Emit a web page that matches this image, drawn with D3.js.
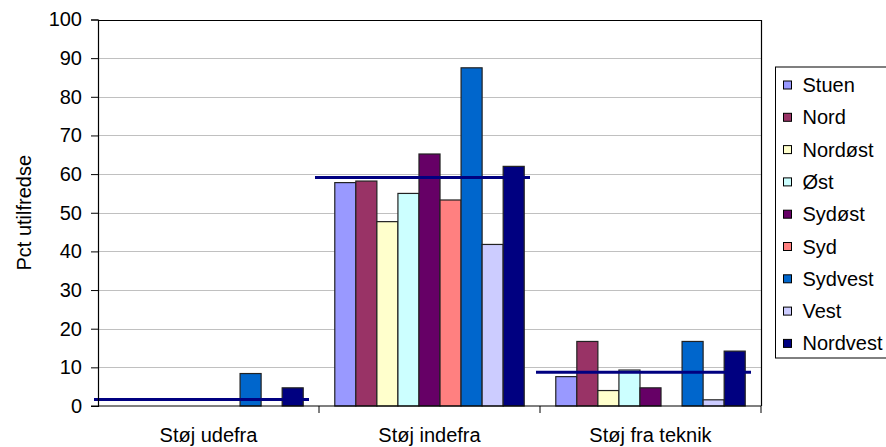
<!DOCTYPE html>
<html>
<head>
<meta charset="utf-8">
<script src="https://cdn.jsdelivr.net/npm/d3@7"></script>
<style>
  html, body { margin: 0; padding: 0; background: #fff; }
  svg { display: block; font-family: Arial, "Liberation Sans", sans-serif; }
</style>
</head>
<body>
<svg id="chart" width="886" height="447"></svg>
<script>
// ---- data ----
const categories = ["Støj udefra", "Støj indefra", "Støj fra teknik"];
const seriesNames = ["Stuen", "Nord", "Nordøst", "Øst", "Sydøst", "Syd", "Sydvest", "Vest", "Nordvest"];
const seriesColors = ["#9999FF", "#993366", "#FFFFCC", "#CCFFFF", "#660066", "#FF8080", "#0066CC", "#CCCCFF", "#000080"];
const Stuen    = [0, 57.8, 7.6];
const Nord     = [0, 58.2, 16.7];
const Nordost  = [0, 47.7, 4.0];
const Ost      = [0, 55.0, 9.3];
const Sydost   = [0, 65.2, 4.7];
const Syd      = [0, 53.3, 0];
const Sydvest  = [8.4, 87.5, 16.7];
const Vest     = [0, 41.8, 1.6];
const Nordvest = [4.7, 62.0, 14.2];
const average  = [1.7, 59.1, 8.7];
const yTicks   = [0, 10, 20, 30, 40, 50, 60, 70, 80, 90, 100];
const yTitle   = "Pct utilfredse";

const seriesValues = [Stuen, Nord, Nordost, Ost, Sydost, Syd, Sydvest, Vest, Nordvest];
const FONT = 20;

// ---- layout ----
const svg = d3.select("#chart");
const plot = { left: 98, right: 761, top: 19.5, bottom: 406 };

const x0 = d3.scaleBand().domain(categories).range([plot.left, plot.right]).paddingInner(0).paddingOuter(0);
const x1 = d3.scaleBand().domain(seriesNames).range([0, x0.bandwidth()]).paddingInner(0).paddingOuter(0.75);
const y = d3.scaleLinear().domain([0, 100]).range([plot.bottom, plot.top]);
const color = d3.scaleOrdinal().domain(seriesNames).range(seriesColors);

// gridlines
svg.append("g")
  .selectAll("line")
  .data(yTicks.filter(d => d > 0 && d < 100))
  .join("line")
  .attr("x1", plot.left).attr("x2", plot.right)
  .attr("y1", d => Math.round(y(d)) + 0.5).attr("y2", d => Math.round(y(d)) + 0.5)
  .attr("stroke", "#c0c0c0").attr("stroke-width", 1);

// plot border (top & right)
svg.append("path")
  .attr("d", `M${plot.left},${Math.round(y(100)) + 0.5}H${plot.right + 0.5}V${plot.bottom}`)
  .attr("fill", "none").attr("stroke", "#000").attr("stroke-width", 1.2);

// bars
const groups = svg.append("g")
  .selectAll("g")
  .data(categories.map((c, ci) => ({ c, ci })))
  .join("g")
  .attr("transform", d => `translate(${x0(d.c)},0)`);

groups.selectAll("rect")
  .data(d => seriesNames.map((s, si) => ({ s, v: seriesValues[si][d.ci] })).filter(e => e.v > 0))
  .join("rect")
  .attr("x", d => x1(d.s))
  .attr("width", x1.bandwidth())
  .attr("y", d => y(d.v))
  .attr("height", d => y(0) - y(d.v))
  .attr("fill", d => color(d.s))
  .attr("stroke", "#222").attr("stroke-width", 1.2);

// average lines
svg.append("g")
  .selectAll("line")
  .data(categories.map((c, ci) => ({ c, v: average[ci] })))
  .join("line")
  .attr("x1", d => x0(d.c) - 4)
  .attr("x2", d => x0(d.c) + x0.bandwidth() - 10)
  .attr("y1", d => y(d.v)).attr("y2", d => y(d.v))
  .attr("stroke", "#000080").attr("stroke-width", 3);

// y axis
const yAxis = d3.axisLeft(y).tickValues(yTicks).tickSize(7).tickPadding(9).tickFormat(d3.format("d"));
const gy = svg.append("g").attr("transform", `translate(${plot.left},0)`).call(yAxis);
gy.select(".domain").attr("stroke", "#000").attr("stroke-width", 1.2);
gy.selectAll(".tick line").attr("stroke", "#000");
gy.selectAll(".tick text").attr("font-size", FONT).attr("fill", "#000").attr("font-family", "Arial, 'Liberation Sans', sans-serif");

// x axis
const gx = svg.append("g").attr("transform", `translate(0,${plot.bottom})`);
gx.append("line").attr("x1", plot.left - 7).attr("x2", plot.right).attr("y1", 0).attr("y2", 0)
  .attr("stroke", "#000").attr("stroke-width", 1.2);
gx.selectAll("line.sep")
  .data(categories.slice(1).map(c => x0(c)).concat([plot.right]))
  .join("line").attr("class", "sep")
  .attr("x1", d => d).attr("x2", d => d).attr("y1", 0).attr("y2", 7)
  .attr("stroke", "#000");
gx.selectAll("text")
  .data(categories)
  .join("text")
  .attr("x", d => x0(d) + x0.bandwidth() / 2)
  .attr("y", 36)
  .attr("text-anchor", "middle")
  .attr("font-size", FONT)
  .text(d => d);

// y title
svg.append("text")
  .attr("transform", `translate(31,${(plot.top + plot.bottom) / 2}) rotate(-90)`)
  .attr("text-anchor", "middle")
  .attr("font-size", FONT)
  .text(yTitle);

// legend
const legend = svg.append("g").attr("transform", "translate(775.5,67)");
legend.append("rect").attr("x", 0).attr("y", 0).attr("width", 130).attr("height", 291)
  .attr("fill", "#fff").attr("stroke", "#000").attr("stroke-width", 1);
const items = legend.selectAll("g.item")
  .data(seriesNames)
  .join("g").attr("class", "item")
  .attr("transform", (d, i) => `translate(0,${18 + i * 32.3})`);
items.append("rect").attr("x", 8).attr("y", -4).attr("width", 8).attr("height", 8)
  .attr("fill", d => color(d)).attr("stroke", "#000").attr("stroke-width", 1);
items.append("text").attr("x", 27).attr("y", 7).attr("font-size", FONT).text(d => d);
</script>
</body>
</html>
